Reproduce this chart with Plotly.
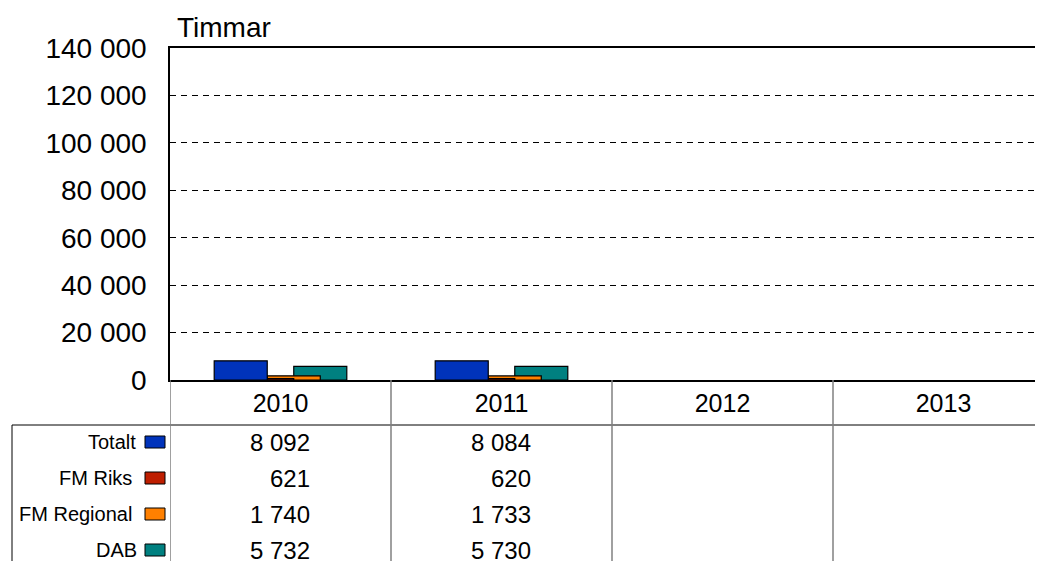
import plotly.graph_objects as go

# data
years = ["2010", "2011", "2012", "2013"]
series_names = ["Totalt", "FM Riks", "FM Regional", "DAB"]
totalt = [8092, 8084, None, None]
fm_riks = [621, 620, None, None]
fm_regional = [1740, 1733, None, None]
dab = [5732, 5730, None, None]
y_ticks = [0, 20000, 40000, 60000, 80000, 100000, 120000, 140000]

values = [totalt, fm_riks, fm_regional, dab]
colors = ["#0033bb", "#be1e00", "#ff8000", "#008080"]
offsets = [-0.30, -0.18, -0.06, 0.06]

# the page body has an 8px margin, so the figure sits 8px in from the window edge
OFF = 8
WIN_W, WIN_H = 1043, 561
W, H = WIN_W - OFF, WIN_H - OFF
L, T, B = 170, 48, 380  # plot area, window pixels
FONT = "Liberation Sans, Arial, sans-serif"


def py(p):
    # window pixel row -> paper y
    return (B - p) / (B - T)


def px(p):
    # window pixel column -> paper x
    return (p - L) / (WIN_W - L)


fig = go.Figure()

# Excel-like overlapping bars; later series sit behind
for i in [3, 2, 1, 0]:
    fig.add_trace(go.Bar(
        x=years, y=values[i], name=series_names[i],
        width=0.24, offset=offsets[i],
        marker=dict(color=colors[i], line=dict(color="black", width=1.2)),
        showlegend=False,
    ))

shapes = []
annotations = []

# table grid
shapes.append(dict(type="line", xref="paper", yref="paper", x0=px(12), x1=1.02,
                   y0=py(425), y1=py(425), line=dict(color="black", width=1)))
shapes.append(dict(type="line", xref="paper", yref="paper", x0=px(12), x1=px(12),
                   y0=py(425), y1=py(WIN_H + 5), line=dict(color="black", width=1)))
for k in range(len(years)):
    shapes.append(dict(type="line", xref="x", yref="paper", x0=k - 0.5, x1=k - 0.5,
                       y0=0, y1=py(WIN_H + 5), line=dict(color="#808080", width=1.5)))

# table rows
row_y = [442, 478, 514, 550]
label_right = [138, 134, 134, 139]
for i, name in enumerate(series_names):
    yc = row_y[i]
    annotations.append(dict(xref="paper", yref="paper", x=px(label_right[i]), y=py(yc),
                            xanchor="right", yanchor="middle", showarrow=False,
                            text=name, font=dict(family=FONT, size=20, color="black")))
    shapes.append(dict(type="rect", xref="paper", yref="paper",
                       x0=px(145), x1=px(165), y0=py(yc + 6), y1=py(yc - 6),
                       fillcolor=colors[i], line=dict(color="black", width=1)))
    for k in range(len(years)):
        v = values[i][k]
        if v is None:
            continue
        annotations.append(dict(xref="x", yref="paper", x=k, y=py(yc),
                                xanchor="right", yanchor="middle", xshift=31,
                                showarrow=False, text=f"{v:,}".replace(",", " "),
                                font=dict(family=FONT, size=24, color="black")))

annotations.append(dict(xref="paper", yref="paper", x=px(175), y=py(28),
                        xanchor="left", yanchor="middle", showarrow=False,
                        text="Timmar", font=dict(family=FONT, size=28, color="black")))

fig.update_layout(
    width=W, height=H,
    margin=dict(l=L - OFF, r=0, t=T - OFF, b=WIN_H - B, autoexpand=False),
    paper_bgcolor="white", plot_bgcolor="white",
    barmode="overlay",
    separators=". ",
    font=dict(family=FONT, color="black"),
    shapes=shapes,
    annotations=annotations,
)

fig.update_xaxes(
    type="category", categoryorder="array", categoryarray=years,
    range=[-0.5, -0.5 + (WIN_W - L) / 221.0],
    showline=True, mirror=True, linecolor="black", linewidth=1.5,
    showgrid=False, ticks="", ticklabelstandoff=0,
    tickfont=dict(family=FONT, size=25, color="black"),
)
fig.update_yaxes(
    range=[0, 140000], tickvals=y_ticks, tickformat=",d",
    showline=True, linecolor="black", linewidth=1.5,
    showgrid=True, gridcolor="black", gridwidth=1, griddash="6px,5px",
    zeroline=False, ticks="", ticklabelstandoff=16,
    tickfont=dict(family=FONT, size=28, color="black"),
)

fig.write_html("out.html")
